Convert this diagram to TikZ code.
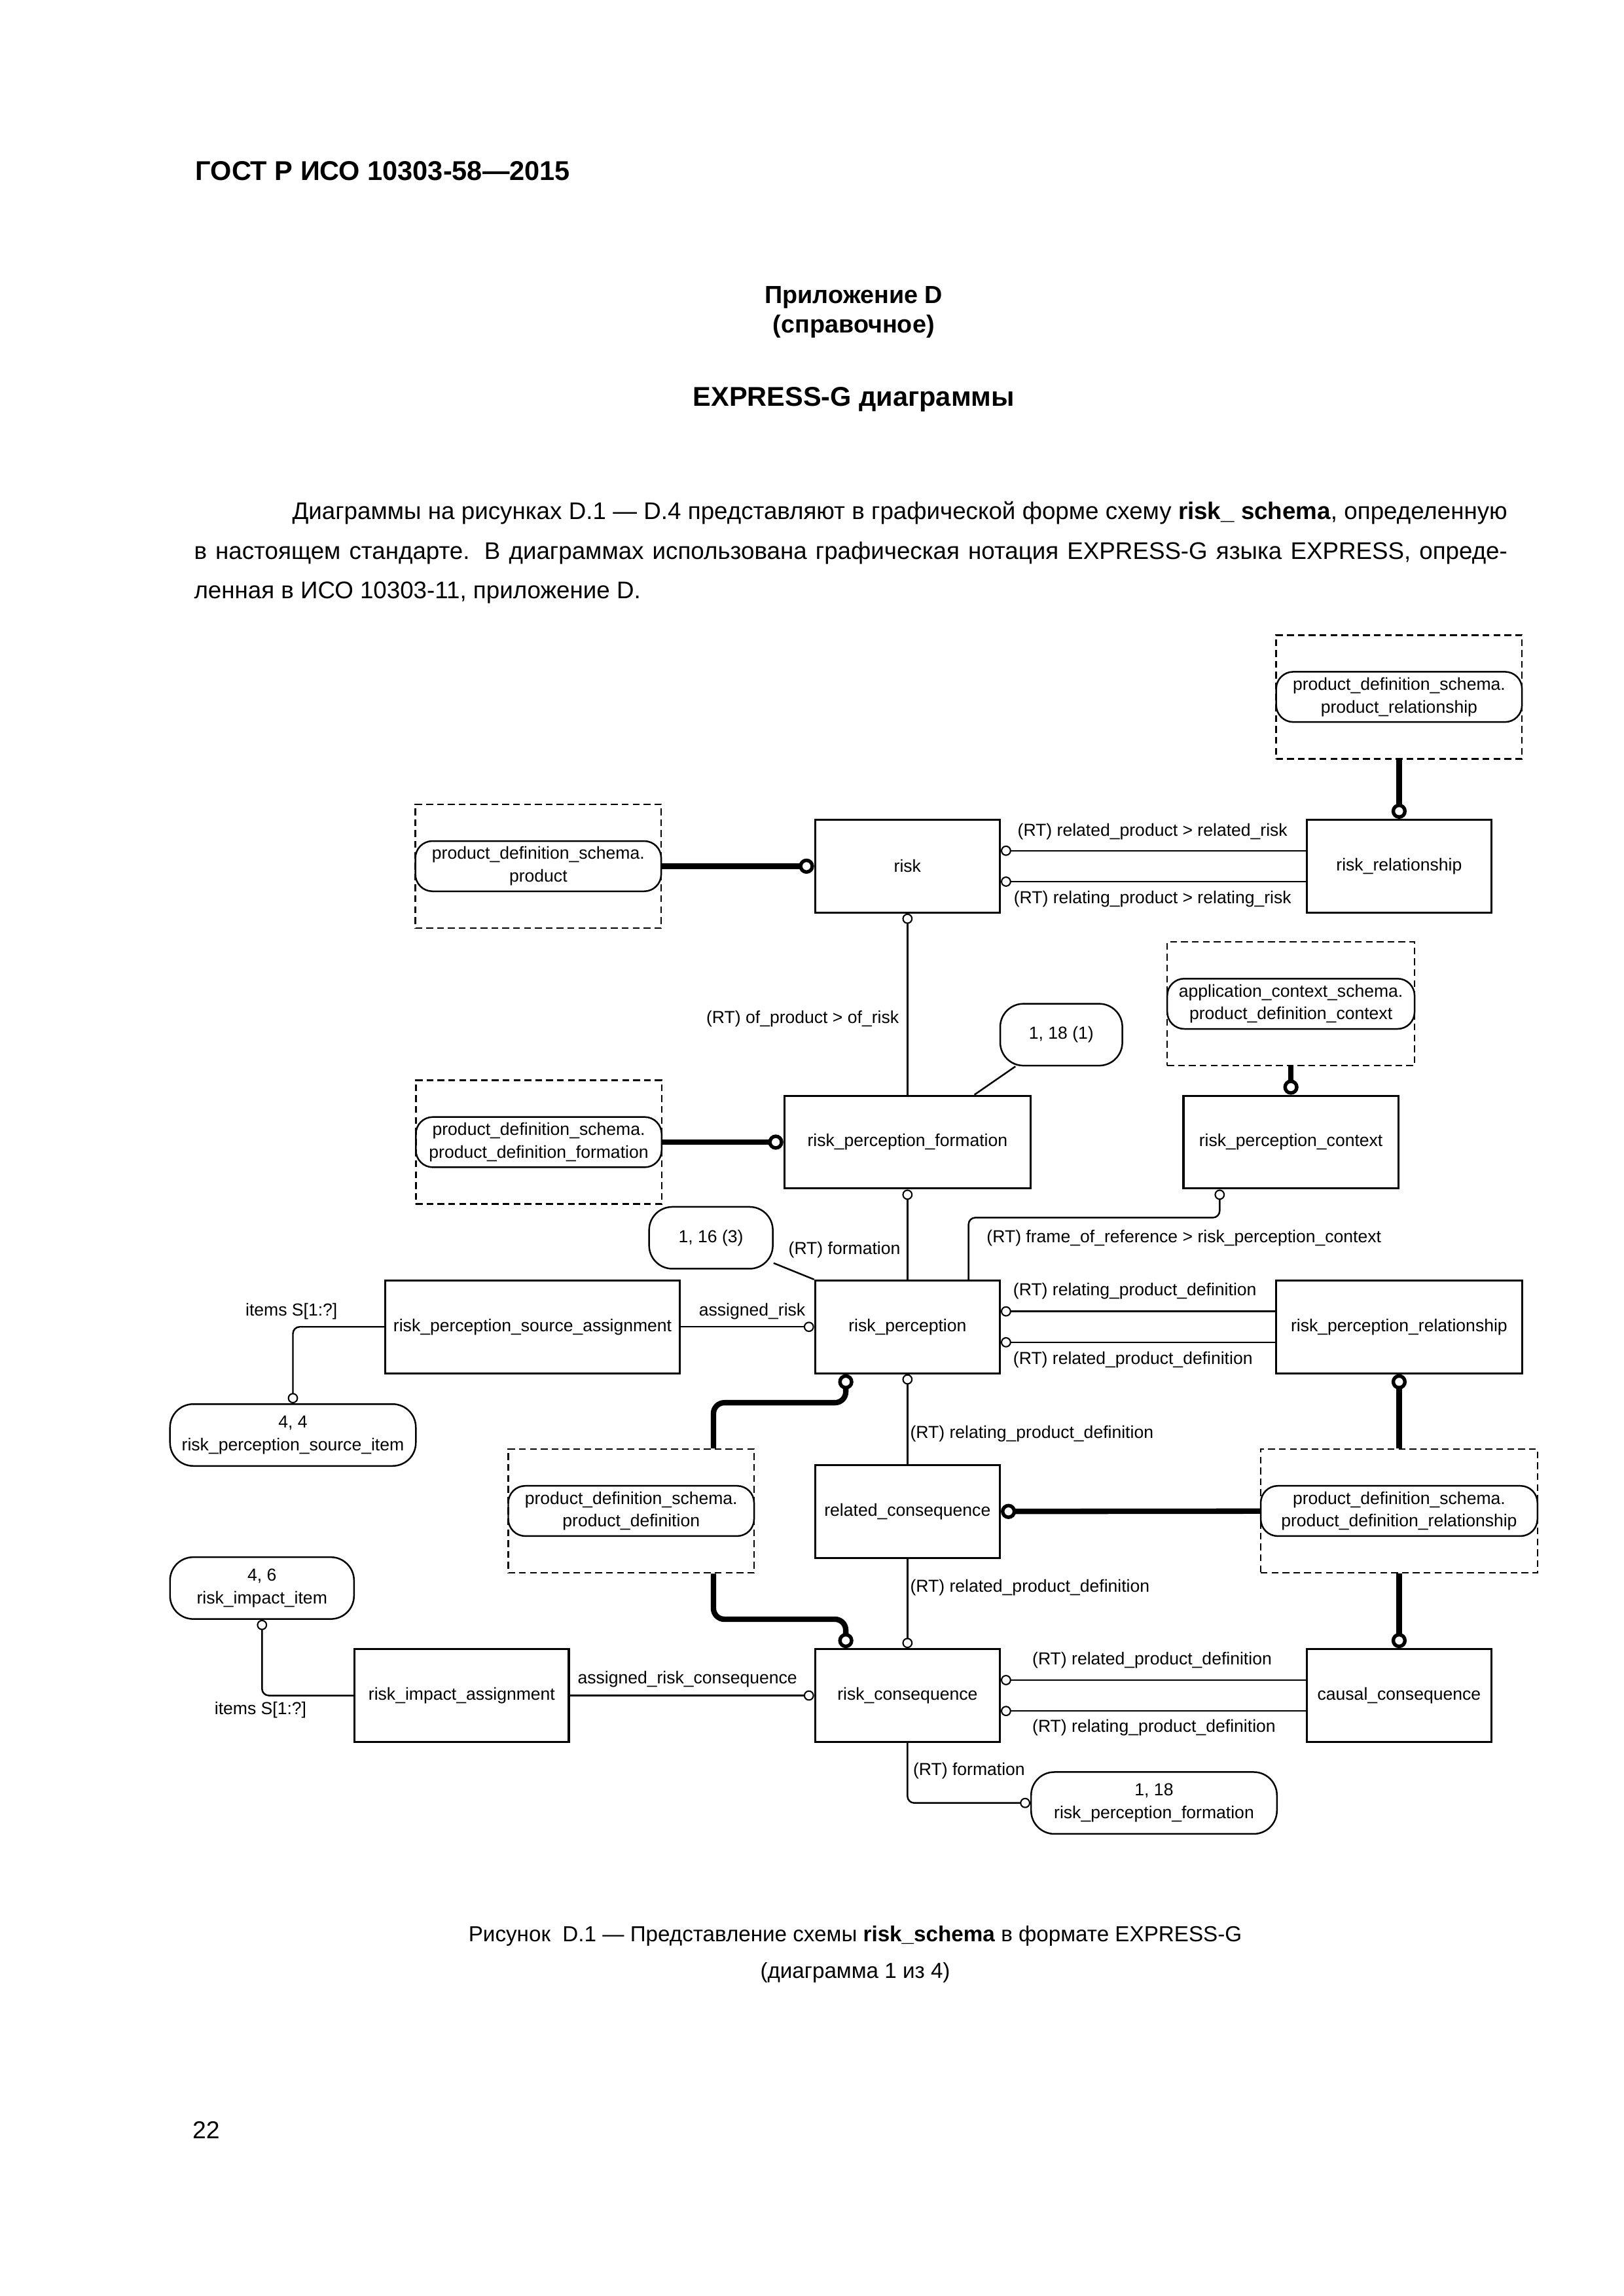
\documentclass[tikz,border=0pt]{standalone}
\usepackage{fontspec}
\setmainfont{Liberation Sans}
\usetikzlibrary{arrows.meta, calc, positioning}

\begin{document}
\begin{tikzpicture}[x=0.01904cm, y=-0.01904cm,
    dfont/.style={font=\fontsize{6.4}{8.4}\selectfont},
    entity/.style={draw, line width=0.75pt, dfont, minimum width=2.39cm, minimum height=1.2cm, inner sep=1pt},
    extref/.style={draw, line width=0.6pt, dfont, rounded corners=0.22cm, align=center, minimum width=3.18cm, minimum height=0.65cm, inner sep=0pt},
    pageref/.style={draw, line width=0.6pt, dfont, rounded corners=0.3cm, align=center, minimum height=0.8cm, inner sep=0pt},
    schemabox/.style={draw, dash pattern=on 2.5pt off 1.5pt, line width=0.6pt, minimum width=3.18cm, minimum height=1.6cm},
    rel/.style={line width=0.6pt, -{Circle[open, length=3.8pt, width=3.8pt, line width=0.5pt]}},
    tieline/.style={line width=0.6pt},
    subrel/.style={line width=2pt, -{Circle[open, length=5.6pt, width=5.6pt, line width=1.3pt]}},
    lbl/.style={dfont, inner sep=0pt}
]
\useasboundingbox (0,0) rectangle (1103,1560);

% page text
\node[anchor=base west, inner sep=0pt, font=\fontsize{10}{12}\selectfont\bfseries] (gost) at (132.5, 122.5) {ГОСТ Р ИСО 10303-58—2015};
\node[anchor=base, font=\fontsize{9.1}{12}\selectfont\bfseries] (annex) at (580, 206) {Приложение D};
\node[anchor=base, font=\fontsize{9.1}{12}\selectfont\bfseries] (annexkind) at (580, 226) {(справочное)};
\node[anchor=base, font=\fontsize{10}{12}\selectfont\bfseries] (title) at (580, 276) {EXPRESS-G диаграммы};
\node[anchor=north west, text width=16.99cm, inner sep=0pt, align=justify, font=\fontsize{8.85}{14.6}\selectfont] (intro) at (131.5, 340.5)
    {\hspace*{1.27cm}Диаграммы на рисунках D.1 — D.4 представляют в графической форме схему \textbf{risk\_ schema}, определенную\linebreak
     в настоящем стандарте. В диаграммах использована графическая нотация EXPRESS-G языка EXPRESS, опреде-\linebreak
     ленная в ИСО 10303-11, приложение D.};

% schema boxes (dashed)
\node[schemabox] (dbrel) at (950.5, 473.5) {};
\node[schemabox] (dbprod) at (365.7, 588.5) {};
\node[schemabox] (dbpdf) at (366, 776) {};
\node[schemabox, minimum width=3.2cm] (dbctx) at (877, 682) {};
\node[schemabox, minimum width=3.58cm] (dbpdr) at (950.5, 1026.6) {};
\node[schemabox] (dbpd) at (428.8, 1026.6) {};

% external references
\node[extref] (pdsrel) at (dbrel) {product\_definition\_schema.\\product\_relationship};
\node[extref] (pdsprod) at (dbprod) {product\_definition\_schema.\\product};
\node[extref] (pdspdf) at (dbpdf) {product\_definition\_schema.\\product\_definition\_formation};
\node[extref, minimum width=3.2cm] (acspdc) at (dbctx) {application\_context\_schema.\\product\_definition\_context};
\node[extref, minimum width=3.58cm] (pdspdr) at (dbpdr) {product\_definition\_schema.\\product\_definition\_relationship};
\node[extref] (pdspd) at (dbpd) {product\_definition\_schema.\\product\_definition};

% entities
\node[entity] (risk) at (616.5, 588.5) {risk};
\node[entity] (rrel) at (950.5, 588.5) {risk\_relationship};
\node[entity, minimum width=3.185cm] (rpf) at (616.5, 776) {risk\_perception\_formation};
\node[entity, minimum width=2.78cm] (rpc) at (877, 776) {risk\_perception\_context};
\node[entity] (rp) at (616.5, 901.5) {risk\_perception};
\node[entity, minimum width=3.815cm] (rpsa) at (361.8, 901.5) {risk\_perception\_source\_assignment};
\node[entity, minimum width=3.185cm] (rpr) at (950.5, 901.5) {risk\_perception\_relationship};
\node[entity] (rc) at (616.5, 1027) {related\_consequence};
\node[entity] (rcons) at (616.5, 1152) {risk\_consequence};
\node[entity, minimum width=2.77cm] (ria) at (313.7, 1152) {risk\_impact\_assignment};
\node[entity] (cc) at (950.5, 1152) {causal\_consequence};

% page references
\node[pageref, minimum width=1.58cm] (ref118a) at (721, 703) {1, 18 (1)};
\node[pageref, minimum width=1.6cm] (ref116) at (483, 841) {1, 16 (3)};
\node[pageref, minimum width=3.18cm] (ref44) at (199, 975) {4, 4\\risk\_perception\_source\_item};
\node[pageref, minimum width=2.38cm] (ref46) at (178, 1079) {4, 6\\risk\_impact\_item};
\node[pageref, minimum width=3.18cm] (ref118b) at (784, 1225) {1, 18\\risk\_perception\_formation};

% relations
\draw[subrel] (dbrel) -- (rrel);
\draw[subrel] (pdsprod) -- (risk);
\draw[rel] ($(rrel.west)+(0,-10.5)$) -- ($(risk.east)+(0,-10.5)$);
\draw[rel] ($(rrel.west)+(0,10.5)$) -- ($(risk.east)+(0,10.5)$);
\node[lbl] at (783, 565) {(RT) related\_product > related\_risk};
\node[lbl] at (783, 611) {(RT) relating\_product > relating\_risk};

\draw[rel] (rpf) -- (risk);
\node[lbl, anchor=east] at (611, 692) {(RT) of\_product > of\_risk};
\draw[tieline] (ref118a) -- ($(rpf.north)+(45.5,0)$);
\draw[subrel] (pdspdf) -- (rpf);
\draw[subrel] (dbctx) -- (rpc);

\draw[rel] (rp) -- (rpf);
\node[lbl, anchor=east] at (612, 849) {(RT) formation};
\draw[tieline] (ref116) -- (rp.north west);
\draw[rel, rounded corners=2.5pt] ($(rp.north)+(41.5,0)$) -- ++(0,-42) -| ($(rpc.south)+(-48.4,0)$);
\node[lbl, anchor=west] at (670, 841) {(RT) frame\_of\_reference > risk\_perception\_context};

\draw[rel] (rpsa) -- (rp);
\node[lbl] at (511, 891) {assigned\_risk};
\draw[rel, rounded corners=2.5pt] (rpsa.west) -| (ref44.north);
\node[lbl] at (198, 891) {items S[1:?]};

\draw[rel] ($(rpr.west)+(0,-10.5)$) -- ($(rp.east)+(0,-10.5)$);
\draw[rel] ($(rpr.west)+(0,10.5)$) -- ($(rp.east)+(0,10.5)$);
\node[lbl, anchor=west] at (688, 877) {(RT) relating\_product\_definition};
\node[lbl, anchor=west] at (688, 924) {(RT) related\_product\_definition};
\draw[subrel] (dbpdr) -- (rpr);

\draw[rel] (rc) -- (rp);
\node[lbl, anchor=west] at (618, 974) {(RT) relating\_product\_definition};
\draw[subrel] (pdspdr) -- (rc);
\draw[rel] (rc) -- (rcons);
\node[lbl, anchor=west] at (618, 1078.5) {(RT) related\_product\_definition};
\draw[subrel] (dbpdr) -- (cc);

\draw[subrel, rounded corners=4pt] ($(dbpd.north)+(55.9,0)$) -- ++(0,-31) -| ($(rp.south)+(-41.9,0)$);
\draw[subrel, rounded corners=4pt] ($(dbpd.south)+(55.9,0)$) -- ++(0,31) -| ($(rcons.north)+(-41.9,0)$);

\draw[rel] (ria) -- (rcons);
\node[lbl] at (467, 1141) {assigned\_risk\_consequence};
\draw[rel, rounded corners=2.5pt] (ria.west) -| (ref46.south);
\node[lbl] at (177, 1162) {items S[1:?]};

\draw[rel] ($(cc.west)+(0,-10.5)$) -- ($(rcons.east)+(0,-10.5)$);
\draw[rel] ($(cc.west)+(0,10.5)$) -- ($(rcons.east)+(0,10.5)$);
\node[lbl, anchor=west] at (701, 1128) {(RT) related\_product\_definition};
\node[lbl, anchor=west] at (701, 1174) {(RT) relating\_product\_definition};
\draw[rel, rounded corners=2.5pt] (rcons.south) |- (ref118b.west);
\node[lbl, anchor=west] at (620, 1203) {(RT) formation};

% caption
\node[anchor=base, font=\fontsize{8}{12}\selectfont] (caption) at (581, 1319) {Рисунок\ \ D.1 — Представление схемы \textbf{risk\_schema} в формате EXPRESS-G};
\node[anchor=base, font=\fontsize{8}{12}\selectfont] (captionpart) at (581, 1344) {(диаграмма 1 из 4)};
\node[anchor=base, font=\fontsize{9}{12}\selectfont] (pageno) at (140, 1453) {22};
\end{tikzpicture}
\end{document}
